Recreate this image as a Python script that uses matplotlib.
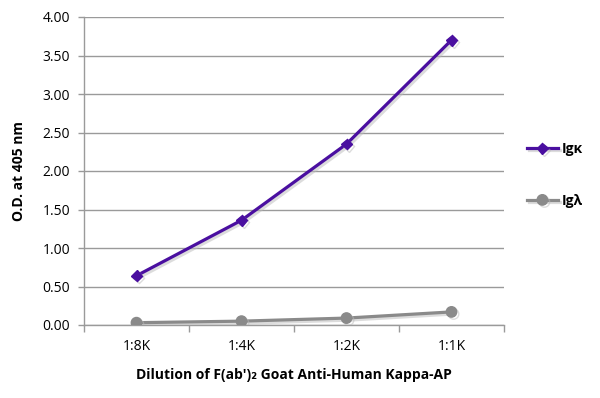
import numpy as np
import matplotlib
matplotlib.use("Agg")
import matplotlib.pyplot as plt
import matplotlib.patheffects as pe

# data
dilutions = ["1:8K", "1:4K", "1:2K", "1:1K"]
igk = [0.64, 1.36, 2.35, 3.70]
igl = [0.03, 0.05, 0.09, 0.17]
y_ticks = [0.0, 0.5, 1.0, 1.5, 2.0, 2.5, 3.0, 3.5, 4.0]

purple = "#4a0fa0"
gray = "#8a8a8a"
axis_gray = "#9a9a9a"

plt.rcParams["font.family"] = ["Open Sans", "DejaVu Sans"]

fig = plt.figure(figsize=(6.0, 3.98), dpi=100)
ax = fig.add_axes([84 / 600, 1 - 325 / 398, 420 / 600, 308 / 398])

x = np.arange(len(dilutions))
shadow = [pe.SimpleLineShadow(offset=(1.5, -1.5), shadow_color="#bbbbbb", alpha=0.5), pe.Normal()]

ax.plot(x, igk, color=purple, lw=2.3, marker="D", ms=5.5, label="Igκ",
        path_effects=shadow, zorder=4)
ax.plot(x, igl, color=gray, lw=2.3, marker="o", ms=7.5, label="Igλ",
        path_effects=shadow, zorder=3)

ax.set_xlim(-0.5, len(dilutions) - 0.5)
ax.set_ylim(0, 4.0)
ax.set_yticks(y_ticks)
ax.set_yticklabels(["%.2f" % v for v in y_ticks], fontsize=10)
ax.set_xticks(x)
ax.set_xticklabels(dilutions, fontsize=10)
ax.set_xticks(np.arange(-0.5, len(dilutions)), minor=True)
ax.tick_params(axis="x", which="major", length=0, pad=10)
ax.tick_params(axis="x", which="minor", length=5, color=axis_gray, width=1)
ax.tick_params(axis="y", length=4, color=axis_gray, width=1, pad=6)

ax.grid(axis="y", color=axis_gray, lw=1)
ax.set_axisbelow(True)
for s in ["top", "right"]:
    ax.spines[s].set_visible(False)
for s in ["left", "bottom"]:
    ax.spines[s].set_color(axis_gray)
    ax.spines[s].set_linewidth(1)

ax.set_ylabel("O.D. at 405 nm", fontsize=10, fontweight="bold", labelpad=12)
ax.set_xlabel("Dilution of F(ab')\u2082 Goat Anti-Human Kappa-AP", fontsize=10,
              fontweight="bold", labelpad=10)

leg = ax.legend(loc="center left", bbox_to_anchor=(1.055, 0.487), frameon=False,
                prop={"weight": "bold", "size": 10}, handlelength=2.2,
                handletextpad=0.3, labelspacing=2.7, borderpad=0, borderaxespad=0)

fig.savefig("out.png", dpi=100)
